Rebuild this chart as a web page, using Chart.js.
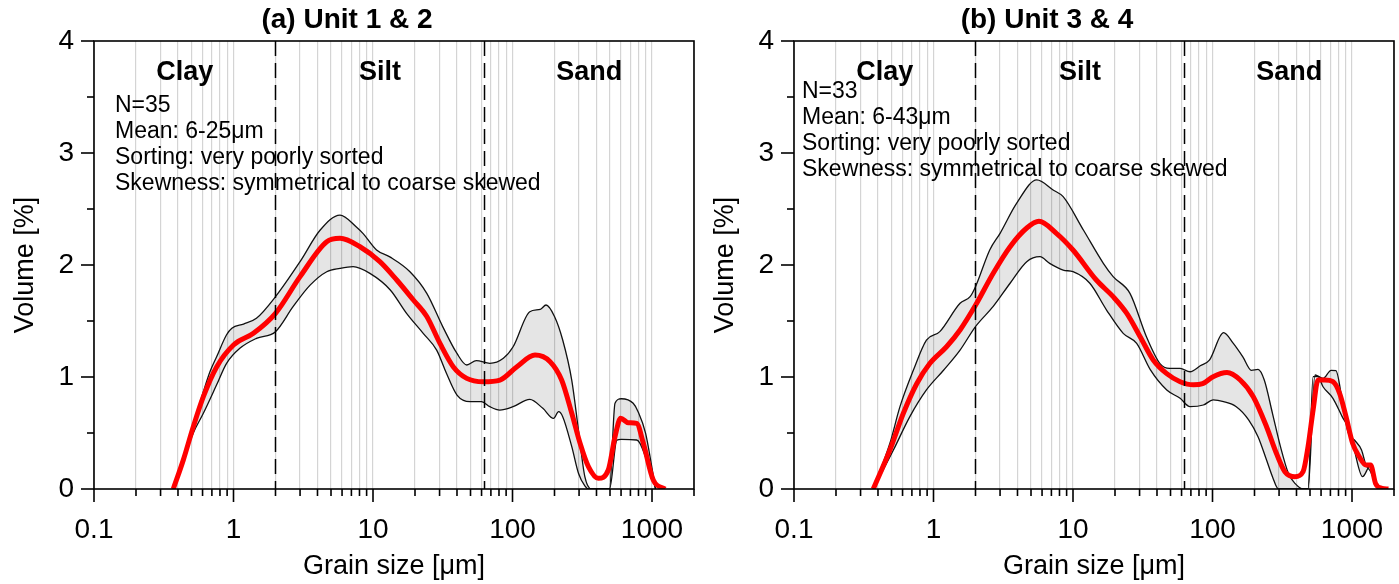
<!DOCTYPE html>
<html>
<head>
<meta charset="utf-8">
<script src="https://cdn.jsdelivr.net/npm/chart.js@4.4.0/dist/chart.umd.min.js"></script>
<style>
  body { margin: 0; background: #fff; }
  #wrap { position: relative; width: 1399px; height: 584px; }
  canvas { position: absolute; top: 0; }
</style>
</head>
<body>
<div id="wrap">
  <canvas id="chartA" width="700" height="584" style="left:0"></canvas>
  <canvas id="chartB" width="699" height="584" style="left:700px"></canvas>
</div>
<script>
// grain size [um] / volume [%]
var unitA_meanX = [0.37, 0.437, 0.515, 0.608, 0.757, 1.0, 1.39, 2.0, 3.0, 4.66, 5.8, 8.07, 11.2, 14.8, 19.4, 24.3, 30.2, 37.7, 47, 61.8, 81.3, 107, 145, 186, 225, 266, 305, 350, 412, 486, 543, 596, 676, 776, 867, 1021, 1240];
var unitA_meanY = [0, 0.26, 0.556, 0.824, 1.09, 1.286, 1.39, 1.568, 1.896, 2.208, 2.238, 2.163, 2.03, 1.866, 1.69, 1.54, 1.30, 1.09, 0.988, 0.958, 0.973, 1.09, 1.196, 1.137, 0.973, 0.676, 0.408, 0.199, 0.095, 0.17, 0.467, 0.631, 0.592, 0.586, 0.408, 0.08, 0];
var unitA_upperX = [0.37, 0.515, 0.608, 0.678, 0.757, 0.89, 0.973, 1.18, 1.46, 2.0, 3.0, 4.17, 5.8, 7.6, 8.5, 10.6, 13.3, 18.4, 24.3, 31.6, 40, 47, 55, 68.8, 86, 101, 133, 158, 174, 200, 229, 266, 297, 330, 368, 496, 543, 603, 733, 795, 900, 1005, 1060];
var unitA_upperY = [0, 0.58, 0.869, 1.047, 1.18, 1.375, 1.435, 1.473, 1.524, 1.717, 2.03, 2.31, 2.446, 2.34, 2.28, 2.134, 2.07, 1.94, 1.747, 1.45, 1.21, 1.107, 1.146, 1.122, 1.167, 1.27, 1.583, 1.604, 1.643, 1.54, 1.33, 0.97, 0.527, 0.11, 0, 0, 0.765, 0.806, 0.765, 0.69, 0.497, 0.17, 0];
var unitA_lowerX = [0.37, 0.515, 0.608, 0.757, 0.89, 1.11, 1.46, 2.0, 2.68, 3.54, 4.66, 5.8, 7.2, 9.5, 13.3, 17.4, 22.9, 28.6, 33.6, 40, 49.7, 60, 68.8, 81, 101, 133, 165, 197, 214, 229, 266, 297, 330, 350, 496, 560, 603, 776, 820, 915, 1005, 1060];
var unitA_lowerY = [0, 0.50, 0.676, 0.93, 1.12, 1.256, 1.345, 1.405, 1.63, 1.82, 1.94, 1.97, 1.985, 1.925, 1.777, 1.568, 1.39, 1.24, 1.033, 0.839, 0.78, 0.78, 0.735, 0.705, 0.735, 0.80, 0.72, 0.63, 0.69, 0.646, 0.378, 0.14, 0.027, 0, 0, 0.437, 0.443, 0.4375, 0.408, 0.26, 0.11, 0];

var unitB_meanX = [0.37, 0.487, 0.608, 0.758, 0.94, 1.24, 1.55, 2.0, 2.68, 3.54, 4.66, 5.7, 7.6, 10, 14.7, 19.4, 24.3, 30.3, 37.7, 47, 58.6, 73, 85, 101, 127, 158, 196, 244, 287, 330, 390, 446, 484, 526, 571, 637, 730, 815, 906, 1010, 1127, 1258, 1360, 1475, 1640, 1825];
var unitB_meanY = [0, 0.348, 0.676, 0.94, 1.12, 1.27, 1.42, 1.64, 1.926, 2.163, 2.33, 2.39, 2.283, 2.134, 1.866, 1.717, 1.568, 1.36, 1.15, 1.03, 0.958, 0.93, 0.94, 1.003, 1.04, 0.973, 0.824, 0.556, 0.319, 0.155, 0.11, 0.155, 0.378, 0.705, 0.973, 0.973, 0.958, 0.854, 0.646, 0.408, 0.288, 0.214, 0.214, 0.05, 0.006, 0];
var unitB_upperX = [0.37, 0.487, 0.575, 0.717, 0.89, 1.11, 1.55, 1.83, 2.0, 2.53, 3.0, 3.94, 5.5, 7.2, 8.5, 11.9, 16.5, 19.4, 25.6, 33.6, 42, 49.3, 58.6, 69, 81.7, 95, 120, 141, 165, 190, 212, 235, 269, 307, 350, 390, 446, 484, 543, 620, 709, 767, 850, 935, 1040, 1170, 1258, 1360, 1475, 1640];
var unitB_upperY = [0, 0.408, 0.735, 1.06, 1.33, 1.405, 1.658, 1.717, 1.806, 2.134, 2.283, 2.55, 2.76, 2.67, 2.61, 2.31, 2.015, 1.896, 1.747, 1.36, 1.12, 1.077, 1.077, 1.047, 1.1, 1.15, 1.396, 1.30, 1.18, 1.06, 1.068, 0.973, 0.676, 0.378, 0.14, 0.05, 0, 0, 1.018, 0.988, 1.06, 1.056, 0.795, 0.51, 0.4375, 0.348, 0.214, 0.155, 0.05, 0];
var unitB_lowerX = [0.37, 0.516, 0.677, 0.89, 1.18, 1.55, 2.0, 2.68, 3.54, 4.66, 5.8, 6.8, 8.5, 10, 13.2, 17.4, 22.9, 28.6, 35.9, 47, 58.6, 69, 86, 101, 120, 148, 182, 212, 244, 269, 297, 484, 526, 571, 620, 730, 850, 978, 1040, 1190, 1360, 1475, 1640];
var unitB_lowerY = [0, 0.348, 0.646, 0.884, 1.06, 1.24, 1.45, 1.63, 1.837, 2.03, 2.074, 2.015, 1.955, 1.94, 1.837, 1.598, 1.39, 1.30, 1.063, 0.884, 0.81, 0.735, 0.75, 0.795, 0.78, 0.735, 0.616, 0.467, 0.259, 0.11, 0, 0, 1.003, 1.003, 0.913, 0.81, 0.646, 0.497, 0.348, 0.11, 0.214, 0.05, 0];

var xTickLabels = [0.1, 1, 10, 100, 1000];
var classBounds = [2, 63];
var classNames = ['Clay', 'Silt', 'Sand'];
var statsA = ['N=35', 'Mean: 6-25\u03bcm', 'Sorting: very poorly sorted', 'Skewness: symmetrical to coarse skewed'];
var statsB = ['N=33', 'Mean: 6-43\u03bcm', 'Sorting: very poorly sorted', 'Skewness: symmetrical to coarse skewed'];

Chart.defaults.font.family = '"Liberation Sans", Arial, sans-serif';
Chart.defaults.color = '#000';

function pts(xs, ys) {
  return xs.map(function (x, i) { return { x: x, y: ys[i] }; });
}

function isPow10(v) {
  var l = Math.log10(v);
  return Math.abs(l - Math.round(l)) < 1e-6;
}

function line(ctx, x1, y1, x2, y2) {
  ctx.beginPath();
  ctx.moveTo(x1, y1);
  ctx.lineTo(x2, y2);
  ctx.stroke();
}

var panelDecor = {
  id: 'panelDecor',
  afterDatasetsDraw: function (chart, args, opts) {
    var ctx = chart.ctx, a = chart.chartArea;
    var xs = chart.scales.x, ys = chart.scales.y;
    ctx.save();
    ctx.strokeStyle = '#000';

    // class boundaries
    ctx.lineWidth = 1.5;
    ctx.setLineDash([15, 7]);
    classBounds.forEach(function (b) {
      var px = xs.getPixelForValue(b);
      line(ctx, px, a.top, px, a.bottom);
    });
    ctx.setLineDash([]);

    // frame and tick marks
    ctx.lineWidth = 1.6;
    ctx.strokeRect(a.left, a.top, a.right - a.left, a.bottom - a.top);
    xs.ticks.forEach(function (t) {
      var px = xs.getPixelForValue(t.value);
      line(ctx, px, a.bottom, px, a.bottom + (isPow10(t.value) ? 13 : 7));
    });
    for (var v = ys.min; v <= ys.max + 1e-9; v += 0.5) {
      var py = ys.getPixelForValue(v);
      line(ctx, a.left, py, a.left - (v % 1 === 0 ? 13 : 7), py);
    }

    // class names
    ctx.fillStyle = '#000';
    ctx.textAlign = 'center';
    ctx.textBaseline = 'middle';
    ctx.font = 'bold 27px "Liberation Sans", Arial, sans-serif';
    var edges = [xs.min].concat(classBounds, [xs.max]);
    classNames.forEach(function (name, i) {
      var mid = Math.sqrt(edges[i] * edges[i + 1]);
      ctx.fillText(name, xs.getPixelForValue(mid), ys.getPixelForValue(3.72));
    });

    // summary text
    ctx.textAlign = 'left';
    ctx.font = '23px "Liberation Sans", Arial, sans-serif';
    opts.lines.forEach(function (s, i) {
      ctx.fillText(s, a.left + opts.dx, a.top + opts.dy + i * 26);
    });
    ctx.restore();
  }
};

function makeChart(id, title, mean, upper, lower, stats, textDx, textDy, padRight) {
  return new Chart(document.getElementById(id), {
    type: 'line',
    data: {
      datasets: [
        { data: mean, borderColor: '#ff0000', borderWidth: 5, pointRadius: 0, fill: false, cubicInterpolationMode: 'monotone' },
        { data: upper, borderColor: '#111', borderWidth: 1.3, pointRadius: 0, fill: '+1', backgroundColor: 'rgba(0,0,0,0.1)', cubicInterpolationMode: 'monotone' },
        { data: lower, borderColor: '#111', borderWidth: 1.3, pointRadius: 0, fill: false, cubicInterpolationMode: 'monotone' }
      ]
    },
    options: {
      responsive: false,
      animation: false,
      layout: { padding: { left: 0, right: padRight, top: 0, bottom: 0 } },
      plugins: {
        legend: { display: false },
        tooltip: { enabled: false },
        title: {
          display: true,
          text: title,
          color: '#000',
          font: { size: 28, weight: 'bold' },
          padding: { top: 3, bottom: 4.4 }
        },
        panelDecor: { lines: stats, dx: textDx, dy: textDy }
      },
      scales: {
        x: {
          type: 'logarithmic',
          min: 0.1,
          max: 2000,
          afterBuildTicks: function (scale) {
            var t = [];
            for (var dec = scale.min; dec < scale.max; dec *= 10) {
              for (var m = 1; m <= 9; m++) {
                var v = +(m * dec).toPrecision(6);
                if (v <= scale.max) t.push({ value: v });
              }
            }
            scale.ticks = t;
          },
          afterFit: function (scale) {
            scale.height = 95;
            scale.paddingLeft = 0;
            scale.paddingRight = 0;
          },
          grid: { color: '#d4d4d4', lineWidth: 1.2, drawTicks: false },
          border: { display: false },
          ticks: {
            autoSkip: false,
            maxRotation: 0,
            padding: 24,
            font: { size: 28 },
            callback: function (value) {
              return xTickLabels.indexOf(value) >= 0 ? String(value) : '';
            }
          },
          title: { display: true, text: 'Grain size [\u03bcm]', font: { size: 27 }, padding: { top: 0, bottom: 1 } }
        },
        y: {
          min: 0,
          max: 4,
          afterFit: function (scale) { scale.width = 94; },
          grid: { display: false, drawTicks: false },
          border: { display: false },
          ticks: { stepSize: 1, padding: 20, font: { size: 28 } },
          title: { display: true, text: 'Volume [%]', font: { size: 27 }, padding: { top: 9, bottom: 0 } }
        }
      }
    },
    plugins: [panelDecor]
  });
}

makeChart('chartA', '(a) Unit 1 & 2',
  pts(unitA_meanX, unitA_meanY), pts(unitA_upperX, unitA_upperY), pts(unitA_lowerX, unitA_lowerY),
  statsA, 21, 65, 6);
makeChart('chartB', '(b) Unit 3 & 4',
  pts(unitB_meanX, unitB_meanY), pts(unitB_upperX, unitB_upperY), pts(unitB_lowerX, unitB_lowerY),
  statsB, 8, 51, 5);
</script>
</body>
</html>
